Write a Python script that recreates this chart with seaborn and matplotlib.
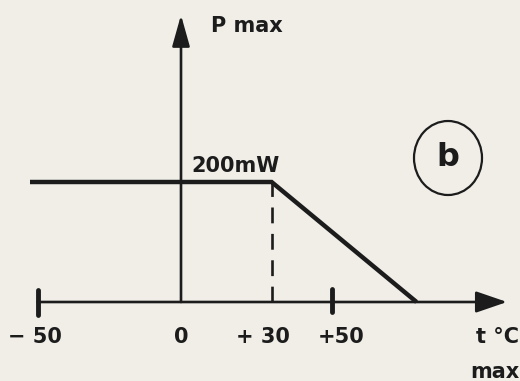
import matplotlib
matplotlib.use("Agg")
import matplotlib.pyplot as plt
from matplotlib.patches import Ellipse
import seaborn as sns
import pandas as pd

# data
temps = [-50, 30, 78]          # t °C
pmax = [200, 200, 0]           # mW
tick_values = [-50, 0, 30, 50]
tick_labels = ["\u2212 50", "0", "+ 30", "+50"]
p_label = "200mW"

sns.set_theme(style="white")
plt.rcParams['font.family'] = ['DejaVu Sans']

BG = "#f1eee8"
INK = "#1c1c1c"

fig = plt.figure(figsize=(5.2, 3.81), dpi=100)
fig.patch.set_facecolor(BG)
ax = fig.add_axes([0, 0, 1, 1])
ax.set_facecolor(BG)

# pixel mapping: x=0 -> 181px, 3.02 px/unit ; y=0 -> 302px from top, 0.6 px/mW
ax.set_xlim(-181 / 3.02, (520 - 181) / 3.02)
ax.set_ylim(-(381 - 302) / 0.6, 302 / 0.6)
ax.axis("off")

df = pd.DataFrame({"t": temps, "P": pmax})
sns.lineplot(data=df, x="t", y="P", ax=ax, color=INK, linewidth=3.2,
             solid_joinstyle="miter", solid_capstyle="butt")

# axes with arrows
x_end = (507 - 181) / 3.02
y_end = (302 - 15) / 0.6
ax.annotate("", xy=(x_end, 0), xytext=(-47.5, 0),
            arrowprops=dict(arrowstyle="-|>,head_length=1.6,head_width=0.55",
                            color=INK, lw=1.9, shrinkA=0, shrinkB=0))
ax.annotate("", xy=(0, y_end), xytext=(0, 0),
            arrowprops=dict(arrowstyle="-|>,head_length=1.6,head_width=0.45",
                            color=INK, lw=1.9, shrinkA=0, shrinkB=0))

# ticks at -50 and +50
ax.plot([-47.5, -47.5], [-22, 20], color=INK, lw=3.5, solid_capstyle="round")
ax.plot([50, 50], [-17, 22], color=INK, lw=3.5, solid_capstyle="round")

# dashed vertical at +30
ax.plot([30, 30], [0, 200], color=INK, lw=1.9, dashes=(6, 4))

fs = 15
tick_x = [-48.5, 0, 27, 53]
for xv, lab in zip(tick_x, tick_labels):
    ax.text(xv, -58, lab, ha="center", va="center", fontsize=fs,
            fontweight="bold", color=INK)

ax.text(112, -58, "t °C", ha="right", va="center", fontsize=fs,
        fontweight="bold", color=INK)
ax.text(112, -116, "max", ha="right", va="center", fontsize=fs,
        fontweight="bold", color=INK)
ax.text(10, 460, "P max", ha="left", va="center", fontsize=fs,
        fontweight="bold", color=INK)
ax.text(3.5, 227, p_label, ha="left", va="center", fontsize=fs,
        fontweight="bold", color=INK)

# circled b
cx = (448 - 181) / 3.02
cy = (302 - 158) / 0.6
ax.add_patch(Ellipse((cx, cy), 68 / 3.02, 74 / 0.6, fill=False,
                     edgecolor=INK, lw=1.6))
ax.text(cx, cy, "b", ha="center", va="center", fontsize=23,
        fontweight="bold", color=INK)

fig.savefig("out.png", dpi=100, facecolor=BG)
